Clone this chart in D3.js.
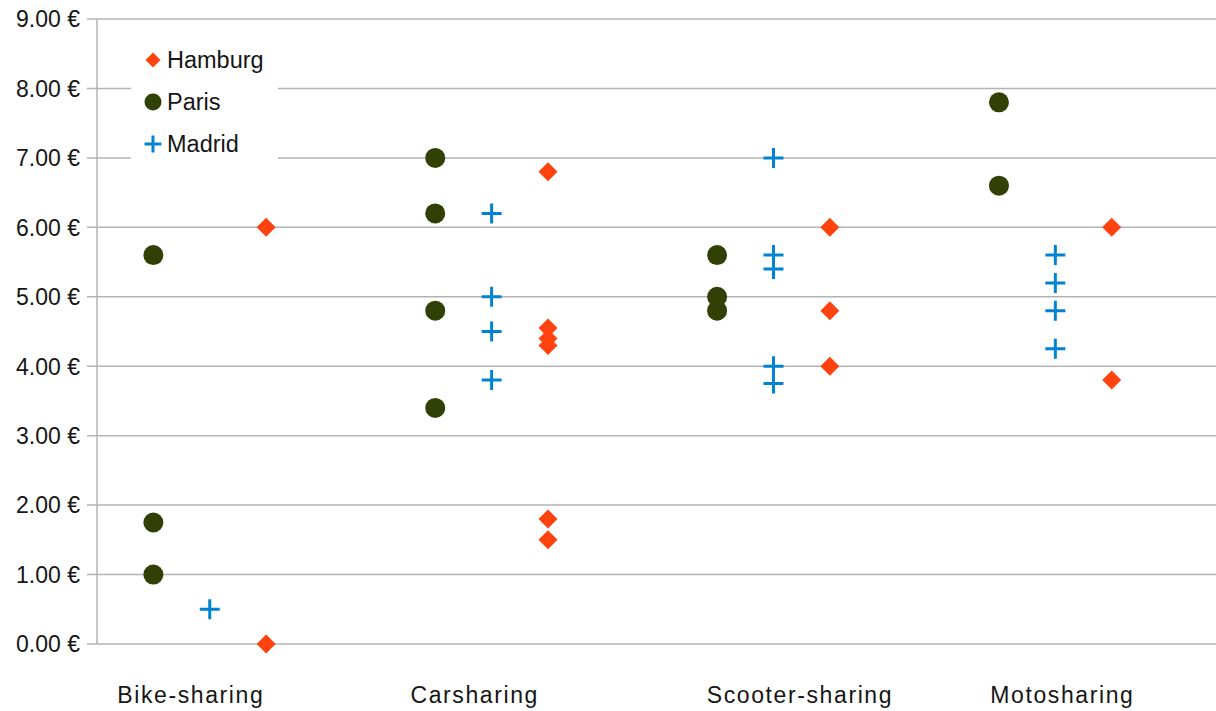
<!DOCTYPE html>
<html>
<head>
<meta charset="utf-8">
<script src="https://cdn.jsdelivr.net/npm/d3@7"></script>
<style>
  body { margin: 0; background: #fff; }
  text { font-family: "Liberation Sans", Arial, sans-serif; }
</style>
</head>
<body>
<div id="chart"></div>
<script>
// categories and where their labels sit (in category units)
var categories = ["Bike-sharing", "Carsharing", "Scooter-sharing", "Motosharing"];
var labelPos = [-0.067, 0.94, 2.094, 3.025];
var yTicks = [0, 1, 2, 3, 4, 5, 6, 7, 8, 9];

// prices per category, one array per city
var hamburg = [[6.0, 0.0], [6.8, 4.55, 4.4, 4.3, 1.8, 1.5], [6.0, 4.8, 4.0], [6.0, 3.8]];
var paris = [[5.6, 1.75, 1.0], [7.0, 6.2, 4.8, 3.4], [5.6, 5.0, 4.8], [7.8, 6.6]];
var madrid = [[0.5], [6.2, 5.0, 4.5, 3.8], [7.0, 5.6, 5.4, 4.0, 3.75], [5.6, 5.2, 4.8, 4.25]];

var series = [
  { name: "Hamburg", values: hamburg, offset: 0.2, color: "#ff420e", shape: "diamond" },
  { name: "Paris", values: paris, offset: -0.2, color: "#314004", shape: "circle" },
  { name: "Madrid", values: madrid, offset: 0, color: "#0084d1", shape: "cross" }
];

var W = 1216, H = 711;
var margin = { top: 19, right: 0, bottom: 67, left: 97 };

var svg = d3.select("#chart").append("svg")
  .attr("width", W).attr("height", H);

var x = d3.scaleLinear().domain([-0.4, 3.57]).range([margin.left, W - margin.right]);
var y = d3.scaleLinear().domain([0, 9]).range([H - margin.bottom, margin.top]);

// grid lines + ticks
svg.append("g")
  .selectAll("line")
  .data(yTicks)
  .enter().append("line")
  .attr("x1", margin.left - 10).attr("x2", W)
  .attr("y1", function(d) { return y(d); })
  .attr("y2", function(d) { return y(d); })
  .attr("stroke", "#b3b3b3").attr("stroke-width", 1.5);

svg.append("line")
  .attr("x1", margin.left).attr("x2", margin.left)
  .attr("y1", y(9)).attr("y2", y(0))
  .attr("stroke", "#b3b3b3").attr("stroke-width", 1.5);

// tick labels
svg.append("g")
  .selectAll("text")
  .data(yTicks)
  .enter().append("text")
  .attr("x", margin.left - 17)
  .attr("y", function(d) { return y(d); })
  .attr("dy", "0.36em")
  .attr("text-anchor", "end")
  .attr("font-size", 23)
  .attr("fill", "#161616")
  .text(function(d) { return d.toFixed(2) + " €"; });

// category labels
svg.append("g")
  .selectAll("text")
  .data(categories)
  .enter().append("text")
  .attr("x", function(d, i) { return x(labelPos[i]); })
  .attr("y", 703)
  .attr("text-anchor", "middle")
  .attr("font-family", "'DejaVu Sans', sans-serif")
  .attr("font-size", 23)
  .attr("letter-spacing", 1.6)
  .attr("fill", "#161616")
  .text(function(d) { return d; });

function drawMarker(g, shape, color, size) {
  if (shape === "circle") {
    g.append("circle").attr("r", size / 2).attr("fill", color);
  } else if (shape === "diamond") {
    g.append("path").attr("d", d3.symbol(d3.symbolSquare, size * size / 2)())
      .attr("transform", "rotate(45)").attr("fill", color);
  } else {
    var h = size / 2;
    g.append("path").attr("d", "M" + (-h) + ",0H" + h + "M0," + (-h) + "V" + h)
      .attr("stroke", color).attr("stroke-width", 3).attr("fill", "none");
  }
}

// points
var drawOrder = [series[1], series[2], series[0]];
drawOrder.forEach(function(s) {
  var pts = [];
  s.values.forEach(function(vals, i) {
    vals.forEach(function(v) { pts.push({ c: i, v: v }); });
  });
  svg.append("g").selectAll("g")
    .data(pts)
    .enter().append("g")
    .attr("transform", function(d) {
      return "translate(" + x(d.c + s.offset) + "," + y(d.v) + ")";
    })
    .each(function() {
      drawMarker(d3.select(this), s.shape, s.color, s.shape === "circle" ? 20 : (s.shape === "diamond" ? 19 : 20));
    });
});

// legend
var legend = svg.append("g");
legend.append("rect")
  .attr("x", 131).attr("y", 38).attr("width", 147).attr("height", 132)
  .attr("fill", "#fff");
series.forEach(function(s, i) {
  var row = legend.append("g").attr("transform", "translate(0," + (60 + i * 42) + ")");
  var m = row.append("g").attr("transform", "translate(153,0)");
  drawMarker(m, s.shape, s.color, s.shape === "diamond" ? 15 : 17);
  row.append("text")
    .attr("x", 167).attr("y", 0).attr("dy", "0.36em")
    .attr("font-size", 23.5).attr("fill", "#161616")
    .text(s.name);
});
</script>
</body>
</html>
